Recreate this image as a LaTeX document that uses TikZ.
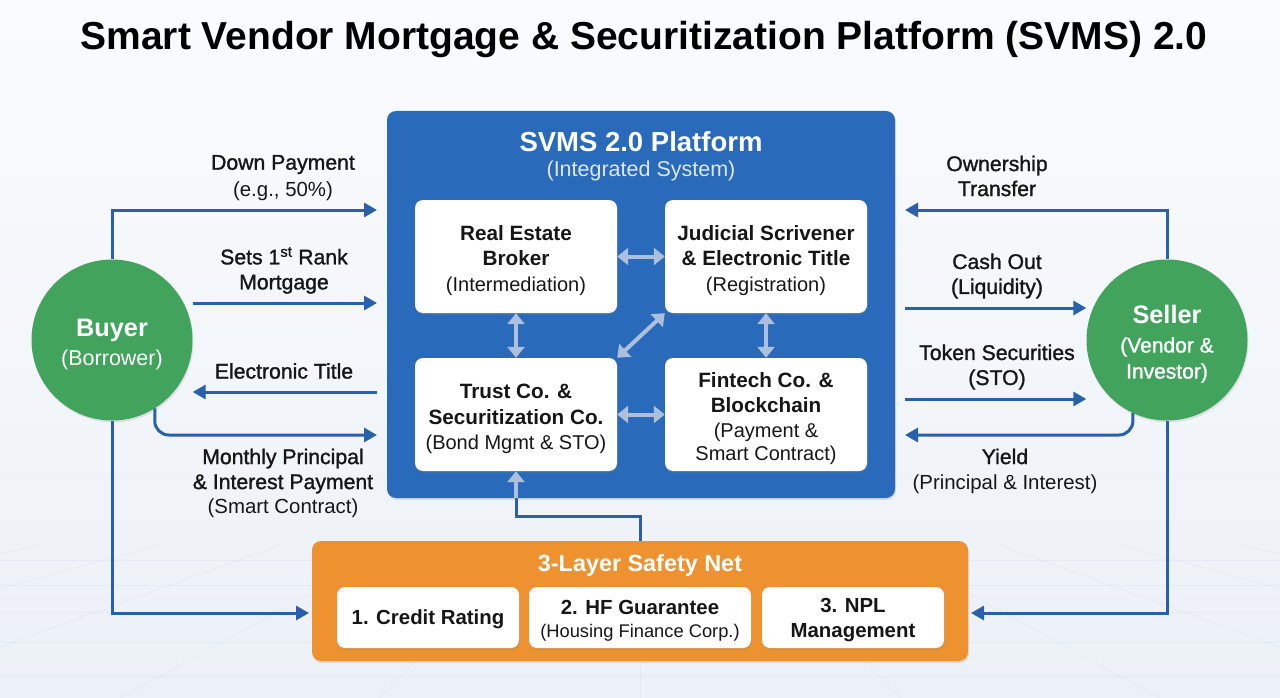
\documentclass[tikz,border=0pt]{standalone}
\usepackage{fontspec}
\setmainfont{Liberation Sans}
\newfontfamily\medfont{Liberation Sans}[FakeBold=1.3]
\usetikzlibrary{arrows.meta,shadows,calc}

\definecolor{platblue}{RGB}{41,106,186}
\definecolor{arrblue}{RGB}{40,96,172}
\definecolor{lightarr}{RGB}{172,192,222}
\definecolor{greenc}{RGB}{66,164,92}
\definecolor{orangec}{RGB}{238,146,48}
\definecolor{ink}{RGB}{22,22,22}
\definecolor{subwhite}{RGB}{222,232,246}
\definecolor{bgtop}{RGB}{250,251,253}
\definecolor{bgbot}{RGB}{236,241,247}
\definecolor{gridc}{RGB}{214,225,238}

\newcommand{\boxpar}{\fontsize{20}{25}\selectfont\mdseries}
\newcommand{\lblreg}{\fontsize{20.4}{25}\selectfont\normalfont}

\tikzset{
  flow/.style={draw=arrblue, line width=3pt, -{Triangle[length=13pt,width=14pt]}},
  flowplain/.style={draw=arrblue, line width=3pt},
  link/.style={draw=lightarr, line width=4pt, {Triangle[length=11pt,width=17pt]}-{Triangle[length=11pt,width=17pt]}},
  linkhead/.style={draw=lightarr, line width=4pt, -{Triangle[length=11pt,width=17pt]}},
  card/.style={fill=white, rounded corners=8pt, minimum width=202pt, minimum height=113pt, inner sep=0pt,
    drop shadow={opacity=0.22, shadow xshift=1pt, shadow yshift=-2pt}},
  cardtxt/.style={align=center, text=ink, inner sep=0pt, font=\fontsize{20.7}{25.5}\selectfont\bfseries},
  netcard/.style={fill=white, rounded corners=8pt, minimum height=61pt, inner sep=0pt,
    drop shadow={opacity=0.22, shadow xshift=1pt, shadow yshift=-2pt}},
  nettxt/.style={align=center, text=ink, inner sep=0pt, font=\fontsize{20.4}{25}\selectfont\bfseries},
  party/.style={circle, fill=greenc, minimum size=161pt, inner sep=0pt,
    drop shadow={opacity=0.18, shadow xshift=1pt, shadow yshift=-2pt}},
  partytxt/.style={align=center, text=white, inner sep=0pt, font=\fontsize{25.3}{30}\selectfont\bfseries},
  lbl/.style={text=ink, align=center, inner sep=0pt, font=\fontsize{21.2}{25}\selectfont\medfont},
}

\begin{document}
\begin{tikzpicture}[x=1pt,y=-1pt]
\useasboundingbox (0,0) rectangle (1280,698);
\shade[top color=bgtop, bottom color=bgbot] (0,0) rectangle (1280,698);
% faint background grid
\begin{scope}[draw=gridc, line width=0.8pt, opacity=0.45]
  \foreach \yy in {560,585,612,642,676} { \draw (0,\yy) -- (1280,\yy); }
  \foreach \xx in {-1000,-800,-600,-400,-200,0,200,400,600,800,1000} { \draw (640+0.6*\xx,545) -- (640+1.3*\xx,698); }
\end{scope}

% title
\node[text=black, inner sep=0pt, font=\fontsize{39}{44}\selectfont\bfseries] (title) at (644,40)
  {Smart Vendor Mortgage \& Securitization Platform (SVMS) 2.0};

% platform
\node[fill=platblue, rounded corners=9pt, minimum width=508pt, minimum height=387pt, inner sep=0pt,
  drop shadow={opacity=0.2, shadow xshift=1pt, shadow yshift=-2pt}] (plat) at (641,304.5) {};
\node[text=white, inner sep=0pt, font=\fontsize{27.5}{30}\selectfont\bfseries] (pt1) at (641,142) {SVMS 2.0 Platform};
\node[text=subwhite, inner sep=0pt, font=\fontsize{21.5}{24}\selectfont] (pt2) at (641,171) {(Integrated System)};

\node[card] (reb) at (516,256.5) {};
\node[card] (jud) at (766,256.5) {};
\node[card] (tru) at (516,414.5) {};
\node[card] (fin) at (766,414.5) {};
\node[cardtxt] (rebT) at ($(reb.center)+(0,4)$) {Real Estate\\Broker\\{\boxpar (Intermediation)}};
\node[cardtxt] (judT) at ($(jud.center)+(0,4)$) {Judicial Scrivener\\\& Electronic Title\\{\boxpar (Registration)}};
\node[cardtxt] (truT) at ($(tru.center)+(0,4.5)$) {Trust Co. \&\\Securitization Co.\\{\boxpar (Bond Mgmt \& STO)}};
\node[cardtxt] (finT) at ($(fin.center)+(0,4)$) {Fintech Co. \&\\Blockchain\\[-1pt]{\boxpar (Payment \&}\\[-2pt]{\boxpar Smart Contract)}};

\draw[link] (reb.east) -- (jud.west);
\draw[link] (tru.east) -- (fin.west);
\draw[link] (reb.south) -- (tru.north);
\draw[link] (jud.south) -- (fin.north);
\draw[link] (jud.south west) -- (tru.north east);

% safety net
\node[fill=orangec, rounded corners=9pt, minimum width=656pt, minimum height=120pt, inner sep=0pt,
  drop shadow={opacity=0.2, shadow xshift=1pt, shadow yshift=-2pt}] (safe) at (640,601) {};
\node[text=white, inner sep=0pt, font=\fontsize{23.4}{26}\selectfont\bfseries] (st) at (640,565) {3-Layer Safety Net};
\node[netcard, minimum width=182pt] (n1) at (428,617.5) {};
\node[netcard, minimum width=222pt] (n2) at (640,617.5) {};
\node[netcard, minimum width=182pt] (n3) at (853,617.5) {};
\node[nettxt] (n1T) at ($(n1.center)+(0,2)$) {1. Credit Rating};
\node[nettxt] (n2T) at ($(n2.center)+(0,3)$) {2. HF Guarantee\\[-2pt]{\fontsize{18.3}{22}\selectfont\mdseries (Housing Finance Corp.)}};
\node[nettxt] (n3T) at ($(n3.center)+(0,3)$) {3. NPL\\Management};

% safety -> trust
\coordinate (pb) at (tru.south |- plat.south);
\draw[flowplain] (safe.north) -- ++(0,-24) -| (pb);
\draw[linkhead] (pb) -- (tru.south);

% parties
\node[party] (buyer) at (112,340) {};
\node[party] (seller) at (1167,340) {};
\node[partytxt] (buyerT) at ($(buyer.center)+(0,5)$)
  {Buyer\\[-1pt]{\fontsize{21.5}{26}\selectfont\mdseries (Borrower)}};
\node[partytxt] (sellerT) at ($(seller.center)+(0,4)$)
  {Seller\\[-1pt]{\fontsize{21}{25}\selectfont\mdseries\medfont (Vendor \&}\\[-4pt]{\fontsize{21}{25}\selectfont\mdseries\medfont Investor)}};

% end points
\coordinate (dpE) at (377,210);
\coordinate (mgE) at (377,303);
\coordinate (etS) at (377,392);
\coordinate (mpE) at (377,435);
\coordinate (otE) at (905,210);
\coordinate (coS) at (905,308);
\coordinate (tsS) at (905,399);
\coordinate (yE)  at (905,435);
\coordinate (sfL) at (309,613);
\coordinate (sfR) at (971,613);

% buyer side
\draw[flow] (buyer.north) |- (dpE);
\draw[flow] (buyer.east |- mgE) -- (mgE);
\draw[flow] (etS) -- (buyer.east |- etS);
\draw[flow, rounded corners=14pt] (buyer.-58) |- (mpE);
\draw[flow] (buyer.south) |- (sfL);

% seller side
\draw[flow] (seller.north) |- (otE);
\draw[flow] (coS) -- (seller.west |- coS);
\draw[flow] (tsS) -- (seller.west |- tsS);
\draw[flow, rounded corners=14pt] (seller.-115) |- (yE);
\draw[flow] (seller.south) |- (sfR);

% labels left
\node[lbl] (l1) at (283,178) {Down Payment\\[2pt]{\lblreg (e.g., 50\%)}};
\node[lbl] (l2) at (284,270.5) {Sets 1\textsuperscript{st} Rank\\Mortgage};
\node[lbl] (l3) at (284,371) {Electronic Title};
\node[lbl] (l4) at (283,483) {Monthly Principal\\\& Interest Payment\\[-1pt]{\lblreg (Smart Contract)}};

% labels right
\node[lbl] (r1) at (997,176) {Ownership\\Transfer};
\node[lbl] (r2) at (997,276) {Cash Out\\(Liquidity)};
\node[lbl] (r3) at (997,367) {Token Securities\\(STO)};
\node[lbl] (r4) at (1005,471) {Yield\\{\lblreg (Principal \& Interest)}};
\end{tikzpicture}
\end{document}
